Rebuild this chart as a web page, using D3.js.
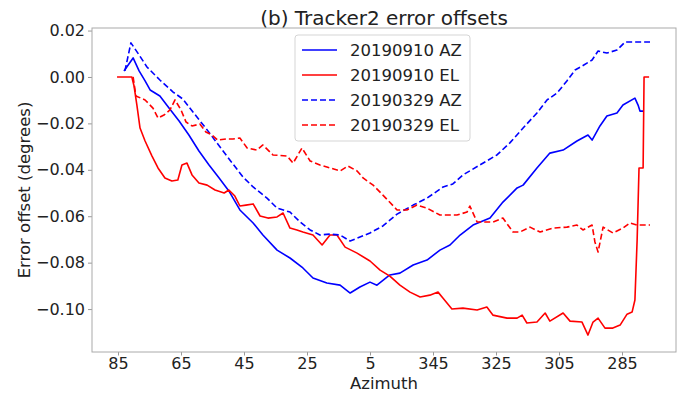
<!DOCTYPE html>
<html>
<head>
<meta charset="utf-8">
<script src="https://cdn.jsdelivr.net/npm/d3@7"></script>
<style>
  html, body { margin: 0; padding: 0; background: #fff; }
  svg { display: block; }
  text { font-family: "DejaVu Sans", sans-serif; fill: #222; }
</style>
</head>
<body>
<svg id="chart" width="681" height="397"></svg>
<script>
// Azimuth (degrees, as read on the dial) and error offsets (degrees) per run
const az0910AZ = [83.1, 80.2, 78.3, 76.4, 74.8, 71.7, 68.8, 65.6, 62.5, 59.3, 56.1, 52.9, 49.8, 46.3, 42.1, 39.0, 34.5, 30.4, 26.3, 23.1, 18.7, 14.5, 11.3, 8.2, 5.0, 2.8, 358.7, 355.5, 351.3, 346.9, 342.8, 339.6, 336.4, 332.3, 326.9, 322.8, 318.3, 316.4, 312.0, 307.9, 303.7, 299.3, 295.8, 294.5, 292.0, 289.8, 286.6, 284.7, 280.9, 279.9, 279.3, 278.3];
const off0910AZ = [0.0026, 0.0082, 0.0026, -0.0017, -0.0056, -0.0082, -0.0134, -0.0190, -0.0250, -0.0319, -0.0379, -0.0435, -0.0491, -0.0573, -0.0629, -0.0681, -0.0746, -0.0780, -0.0823, -0.0866, -0.0888, -0.0897, -0.0931, -0.0905, -0.0884, -0.0897, -0.0853, -0.0845, -0.0810, -0.0789, -0.0746, -0.0724, -0.0681, -0.0638, -0.0608, -0.0539, -0.0478, -0.0466, -0.0392, -0.0328, -0.0315, -0.0276, -0.0250, -0.0272, -0.0211, -0.0168, -0.0155, -0.0121, -0.0091, -0.0121, -0.0147, -0.0147];

const az0910EL = [85.3, 80.6, 79.9, 79.0, 78.0, 76.4, 74.2, 72.3, 70.1, 67.9, 66.0, 64.7, 63.1, 61.5, 59.3, 56.7, 54.2, 51.3, 49.8, 47.9, 46.3, 44.4, 42.1, 39.9, 37.4, 34.5, 32.6, 30.4, 28.2, 26.3, 23.1, 20.2, 17.7, 15.5, 12.9, 9.1, 5.0, 1.8, 358.7, 355.5, 352.3, 349.1, 346.0, 343.4, 341.8, 339.0, 335.5, 331.0, 327.9, 326.0, 321.5, 318.3, 316.7, 315.2, 312.0, 309.4, 307.9, 303.7, 301.5, 297.7, 295.8, 294.2, 292.6, 290.4, 287.9, 285.6, 283.4, 281.8, 280.9, 280.2, 279.6, 278.3, 278.0, 276.4];
const off0910EL = [0.0000, 0.0000, -0.0039, -0.0121, -0.0220, -0.0276, -0.0341, -0.0392, -0.0435, -0.0448, -0.0444, -0.0379, -0.0371, -0.0422, -0.0457, -0.0466, -0.0487, -0.0500, -0.0487, -0.0513, -0.0556, -0.0552, -0.0547, -0.0599, -0.0608, -0.0603, -0.0586, -0.0651, -0.0659, -0.0668, -0.0681, -0.0724, -0.0681, -0.0681, -0.0733, -0.0759, -0.0793, -0.0832, -0.0858, -0.0897, -0.0927, -0.0948, -0.0940, -0.0927, -0.0953, -0.1000, -0.0996, -0.1004, -0.0991, -0.1026, -0.1039, -0.1039, -0.1026, -0.1060, -0.1056, -0.1017, -0.1052, -0.1017, -0.1052, -0.1056, -0.1112, -0.1056, -0.1039, -0.1082, -0.1082, -0.1069, -0.1022, -0.1013, -0.0961, -0.0703, -0.0392, -0.0392, 0.0000, 0.0000];

const az0329AZ = [82.8, 80.9, 78.3, 75.8, 71.7, 67.5, 64.4, 61.2, 56.7, 52.6, 48.5, 45.3, 42.1, 37.7, 34.5, 30.4, 27.2, 24.0, 20.9, 17.7, 14.5, 11.3, 8.2, 5.0, 0.9, 356.4, 351.3, 346.9, 341.8, 338.7, 335.5, 330.1, 324.7, 320.6, 316.4, 312.0, 308.8, 305.6, 302.5, 299.9, 297.7, 294.5, 292.6, 289.8, 286.6, 284.0, 280.2, 276.1];
const off0329AZ = [0.0026, 0.0147, 0.0095, 0.0043, -0.0013, -0.0065, -0.0095, -0.0151, -0.0228, -0.0302, -0.0375, -0.0431, -0.0474, -0.0522, -0.0565, -0.0582, -0.0625, -0.0659, -0.0681, -0.0677, -0.0681, -0.0707, -0.0690, -0.0672, -0.0642, -0.0591, -0.0552, -0.0522, -0.0474, -0.0461, -0.0422, -0.0379, -0.0336, -0.0284, -0.0220, -0.0155, -0.0099, -0.0069, -0.0017, 0.0030, 0.0047, 0.0073, 0.0112, 0.0103, 0.0116, 0.0151, 0.0151, 0.0151];

const az0329EL = [80.2, 79.3, 76.4, 73.9, 72.3, 70.4, 68.5, 66.9, 65.0, 63.4, 61.5, 59.0, 57.1, 55.2, 53.3, 50.7, 48.5, 46.3, 44.0, 40.9, 39.0, 35.8, 31.3, 29.4, 26.6, 24.0, 20.9, 17.7, 14.5, 12.0, 9.1, 7.2, 4.0, 0.9, 356.4, 353.3, 350.1, 346.9, 342.8, 337.4, 334.2, 333.3, 331.0, 326.0, 322.8, 319.6, 317.4, 314.2, 311.0, 306.9, 302.5, 299.3, 297.4, 294.5, 293.6, 292.6, 291.0, 287.9, 284.7, 282.5, 280.2, 276.1];
const off0329EL = [0.0000, -0.0082, -0.0099, -0.0134, -0.0177, -0.0164, -0.0142, -0.0099, -0.0142, -0.0194, -0.0211, -0.0203, -0.0237, -0.0250, -0.0272, -0.0267, -0.0267, -0.0263, -0.0306, -0.0315, -0.0293, -0.0336, -0.0341, -0.0371, -0.0306, -0.0362, -0.0379, -0.0392, -0.0405, -0.0384, -0.0405, -0.0435, -0.0466, -0.0509, -0.0573, -0.0573, -0.0552, -0.0565, -0.0595, -0.0595, -0.0582, -0.0556, -0.0625, -0.0625, -0.0608, -0.0668, -0.0668, -0.0647, -0.0668, -0.0651, -0.0647, -0.0638, -0.0659, -0.0638, -0.0711, -0.0754, -0.0647, -0.0672, -0.0651, -0.0629, -0.0638, -0.0638];

const seriesNames = ["20190910 AZ", "20190910 EL", "20190329 AZ", "20190329 EL"];
const seriesColors = ["#0000ff", "#ff0000", "#0000ff", "#ff0000"];
const seriesDashed = [false, false, true, true];

const xTickLabels = [85, 65, 45, 25, 5, 345, 325, 305, 285];
const yTickValues = [0.02, 0.00, -0.02, -0.04, -0.06, -0.08, -0.10];

// Azimuth runs continuously across north, so angles past 180 are unwrapped to negatives
const unwrap = a => (a > 180 ? a - 360 : a);

const series = [
  [az0910AZ, off0910AZ],
  [az0910EL, off0910EL],
  [az0329AZ, off0329AZ],
  [az0329EL, off0329EL]
].map(([az, off], i) => ({
  name: seriesNames[i],
  color: seriesColors[i],
  dashed: seriesDashed[i],
  points: az.map((a, j) => ({ x: unwrap(a), y: off[j] }))
}));

const plot = { left: 92, right: 676, top: 28, bottom: 352 };
const svg = d3.select("#chart");

const x = d3.scaleLinear().domain([93.25, -92.14]).range([plot.left, plot.right]);
const y = d3.scaleLinear().domain([0.0211, -0.1185]).range([plot.top, plot.bottom]);

const fmtY = v => (v < 0 ? "\u2212" : "") + Math.abs(v).toFixed(2);
const fmtX = v => String((v + 360) % 360);

// Axes
const xAxis = svg.append("g")
  .attr("transform", `translate(0,${plot.bottom})`)
  .call(d3.axisBottom(x)
    .tickValues(xTickLabels.map(unwrap))
    .tickFormat(fmtX)
    .tickSizeInner(3.5).tickSizeOuter(0).tickPadding(2));

const yAxis = svg.append("g")
  .attr("transform", `translate(${plot.left},0)`)
  .call(d3.axisLeft(y)
    .tickValues(yTickValues)
    .tickFormat(fmtY)
    .tickSizeInner(4).tickSizeOuter(0).tickPadding(3));

[xAxis, yAxis].forEach(g => {
  g.select(".domain").remove();
  g.selectAll(".tick line").attr("stroke", "#999");
  g.selectAll(".tick text")
    .attr("fill", "#222")
    .style("font-family", "'DejaVu Sans', sans-serif")
    .style("font-size", "16px");
});

// Frame around the plotting area
svg.append("rect")
  .attr("x", plot.left).attr("y", plot.top)
  .attr("width", plot.right - plot.left)
  .attr("height", plot.bottom - plot.top)
  .attr("fill", "none").attr("stroke", "#aaa").attr("stroke-width", 1);

// Data lines
const line = d3.line().x(d => x(d.x)).y(d => y(d.y));
svg.append("clipPath").attr("id", "plotclip")
  .append("rect")
  .attr("x", plot.left).attr("y", plot.top)
  .attr("width", plot.right - plot.left)
  .attr("height", plot.bottom - plot.top);

svg.append("g").attr("clip-path", "url(#plotclip)")
  .selectAll("path")
  .data(series)
  .join("path")
  .attr("d", d => line(d.points))
  .attr("fill", "none")
  .attr("stroke", d => d.color)
  .attr("stroke-width", 1.6)
  .attr("stroke-linejoin", "round")
  .attr("stroke-dasharray", d => (d.dashed ? "6,3" : null));

// Title and axis labels
svg.append("text")
  .attr("x", (plot.left + plot.right) / 2).attr("y", 25)
  .attr("text-anchor", "middle")
  .style("font-size", "20px")
  .text("(b) Tracker2 error offsets");

svg.append("text")
  .attr("x", (plot.left + plot.right) / 2).attr("y", 389)
  .attr("text-anchor", "middle")
  .style("font-size", "16.5px")
  .text("Azimuth");

svg.append("text")
  .attr("transform", `translate(30,${(plot.top + plot.bottom) / 2}) rotate(-90)`)
  .attr("text-anchor", "middle")
  .style("font-size", "16.5px")
  .text("Error offset (degrees)");

// Legend
const legend = svg.append("g");
legend.append("rect")
  .attr("x", 295).attr("y", 35).attr("width", 175).attr("height", 106)
  .attr("rx", 3)
  .attr("fill", "#fff").attr("fill-opacity", 0.8)
  .attr("stroke", "#d5d5d5");

series.forEach((s, i) => {
  const cy = 50 + i * 25;
  legend.append("line")
    .attr("x1", 302).attr("x2", 337).attr("y1", cy).attr("y2", cy)
    .attr("stroke", s.color).attr("stroke-width", 1.6)
    .attr("stroke-dasharray", s.dashed ? "6,3" : null);
  legend.append("text")
    .attr("x", 350).attr("y", cy)
    .attr("dominant-baseline", "central")
    .style("font-size", "16.5px")
    .text(s.name);
});
</script>
</body>
</html>
